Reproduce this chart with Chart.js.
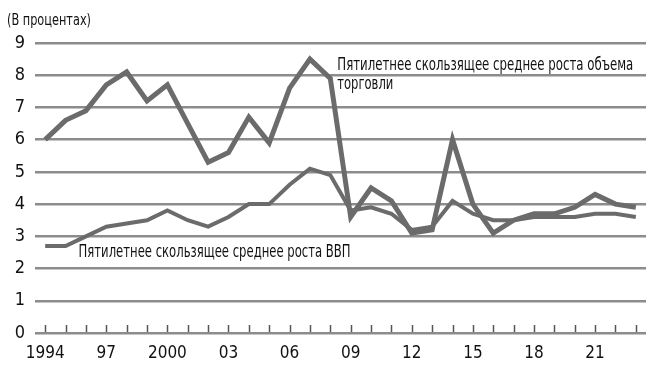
<!DOCTYPE html>
<html>
<head>
<meta charset="utf-8">
<script src="https://cdn.jsdelivr.net/npm/chart.js@4"></script>
<style>
html,body{margin:0;padding:0;background:#fff;}
#wrap{width:655px;height:373px;position:relative;}
</style>
</head>
<body>
<div id="wrap"><canvas id="c" width="655" height="373"></canvas></div>
<script>
const years = [1994,1995,1996,1997,1998,1999,2000,2001,2002,2003,2004,2005,2006,2007,2008,2009,2010,2011,2012,2013,2014,2015,2016,2017,2018,2019,2020,2021,2022,2023];
const tradeGrowth = [6.0,6.6,6.9,7.7,8.1,7.2,7.7,6.5,5.3,5.6,6.7,5.9,7.6,8.5,7.9,3.6,4.5,4.1,3.1,3.2,6.0,4.0,3.1,3.5,3.7,3.7,3.9,4.3,4.0,3.9];
const gdpGrowth   = [2.7,2.7,3.0,3.3,3.4,3.5,3.8,3.5,3.3,3.6,4.0,4.0,4.6,5.1,4.9,3.8,3.9,3.7,3.2,3.3,4.1,3.7,3.5,3.5,3.6,3.6,3.6,3.7,3.7,3.6];
const yTicks = [0,1,2,3,4,5,6,7,8,9];
const xTickLabels = {1994:'1994',1997:'97',2000:'2000',2003:'03',2006:'06',2009:'09',2012:'12',2015:'15',2018:'18',2021:'21'};
const titleText = '(В процентах)';
const tradeLabel = ['Пятилетнее скользящее среднее роста объема','торговли'];
const gdpLabel = 'Пятилетнее скользящее среднее роста ВВП';

const FONT = '"DejaVu Sans Condensed", "Liberation Sans Narrow", "Roboto Condensed", sans-serif';

const extras = {
  id: 'extras',
  afterDraw(chart) {
    const ctx = chart.ctx;
    const xs = chart.scales.x, ys = chart.scales.y;
    ctx.save();
    ctx.strokeStyle = '#555';
    ctx.lineWidth = 1.5;
    const bottom = ys.getPixelForValue(0);
    years.forEach((yr, i) => {
      const px = Math.round(xs.getPixelForTick(i)) + 0.5;
      ctx.beginPath();
      ctx.moveTo(px, bottom - 1);
      ctx.lineTo(px, bottom - 8);
      ctx.stroke();
    });
    ctx.fillStyle = '#111';
    ctx.textBaseline = 'middle';
    ctx.textAlign = 'left';
    ctx.font = '16.5px ' + FONT;
    ctx.fillText(titleText, 7, 21, 84);
    ctx.font = '17px ' + FONT;
    const tx = xs.getPixelForValue(14) + 7;
    ctx.fillText(tradeLabel[0], tx, ys.getPixelForValue(8.3), 296);
    ctx.fillText(tradeLabel[1], tx, ys.getPixelForValue(7.7), 56);
    const gx = xs.getPixelForValue(1) + 13;
    ctx.fillText(gdpLabel, gx, ys.getPixelForValue(2.5), 272);
    ctx.restore();
  }
};

new Chart(document.getElementById('c'), {
  type: 'line',
  data: {
    labels: years,
    datasets: [
      { label: 'trade', data: tradeGrowth, borderColor: '#6b6b6b', borderWidth: 5, pointRadius: 0, tension: 0, fill: false },
      { label: 'gdp', data: gdpGrowth, borderColor: '#6b6b6b', borderWidth: 4, pointRadius: 0, tension: 0, fill: false }
    ]
  },
  options: {
    responsive: false,
    animation: false,
    devicePixelRatio: 1,
    layout: { padding: { top: 43, right: 9, left: 0, bottom: 0 } },
    plugins: { legend: { display: false }, tooltip: { enabled: false }, title: { display: false } },
    scales: {
      x: {
        type: 'category',
        offset: true,
        grid: { display: false },
        border: { display: false },
        afterFit(s) { s.height = 40; },
        ticks: {
          autoSkip: false,
          maxRotation: 0,
          padding: 2,
          color: '#111',
          font: { family: FONT, size: 17 },
          callback(v, i) { const y = years[i]; return xTickLabels[y] || ''; }
        }
      },
      y: {
        min: 0,
        max: 9,
        afterBuildTicks(s) { s.ticks = yTicks.map(v => ({ value: v })); },
        afterFit(s) { s.width = 35; },
        grid: { color: '#8c8c8c', lineWidth: 2.5, drawTicks: false },
        border: { display: false },
        ticks: { padding: 10, color: '#111', font: { family: FONT, size: 18 } }
      }
    }
  },
  plugins: [extras]
});
</script>
</body>
</html>
